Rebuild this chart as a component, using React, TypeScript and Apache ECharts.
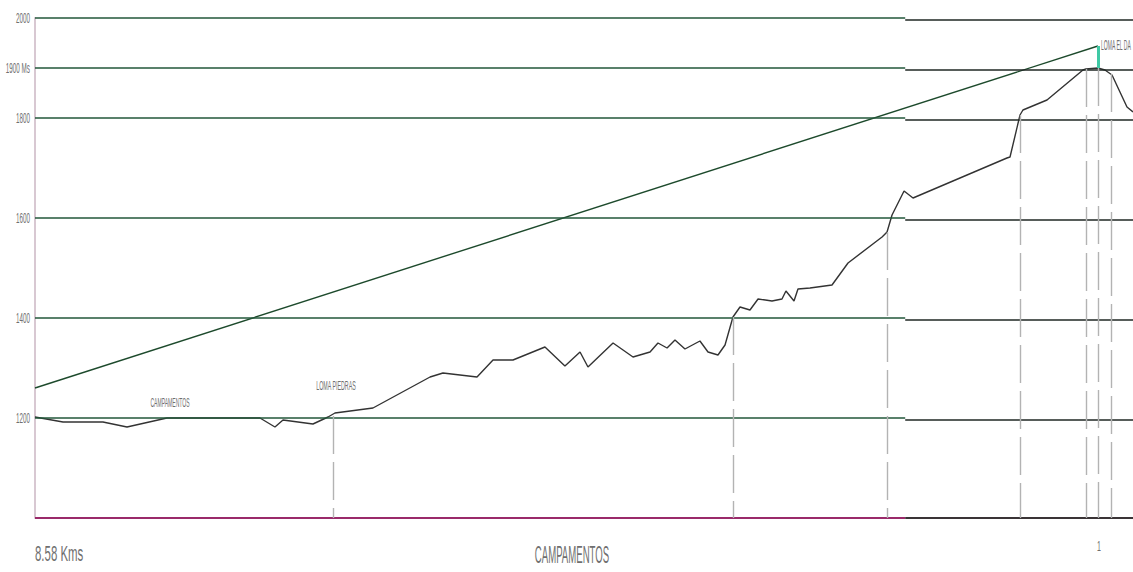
import React, { useEffect, useRef } from "react";
import * as echarts from "echarts";

// Elevation profile of the trail: distance in km, height in metres
const distKm = [
  0, 0.219, 0.531, 0.719, 1.031, 1.344, 1.703, 1.758, 1.875, 1.938, 2.172, 2.29,
  2.344, 2.641, 3.087, 3.188, 3.454, 3.579, 3.735, 3.985, 4.141, 4.259, 4.321,
  4.517, 4.673, 4.806, 4.868, 4.939, 5.001, 5.079, 5.196, 5.259, 5.337, 5.392,
  5.454, 5.509, 5.587, 5.65, 5.759, 5.837, 5.868, 5.931, 5.962, 6.056, 6.228,
  6.353, 6.619, 6.658, 6.697, 6.791, 6.861, 7.595, 7.619, 7.697, 7.72, 7.908,
  8.189, 8.212, 8.306, 8.361, 8.416, 8.533, 8.58,
];
const elevM = [
  1202, 1192, 1192, 1182, 1200, 1200, 1200, 1200, 1182, 1196, 1188, 1202,
  1210, 1220, 1282, 1290, 1282, 1316, 1316, 1342, 1304, 1332, 1302,
  1350, 1322, 1332, 1350, 1340, 1356, 1338, 1354, 1332, 1326, 1346,
  1402, 1422, 1416, 1438, 1434, 1438, 1454, 1434, 1458, 1460, 1466,
  1510, 1562, 1572, 1606, 1654, 1640, 1720, 1722, 1806, 1816, 1836,
  1896, 1898, 1900, 1896, 1886, 1822, 1812,
];

// Straight line from the start to the summit (average gradient)
const slopeKm = [0, 8.306];
const slopeElev = [1260, 1944];
const summitElev = 1900;

// Reference levels with their labels
const gridLevels = [2000, 1900, 1800, 1600, 1400, 1200];
const levelLabels = ["2000", "1900 Ms", "1800", "1600", "1400", "1200"];
const baseLevel = 1000;

// Waypoints marked with dashed drop lines
const waypointKm = [2.329, 5.454, 6.658, 7.697, 8.212, 8.306, 8.408];
const waypointElev = [1204, 1402, 1572, 1806, 1898, 1900, 1888];

// Place names written along the profile
const placeNames = ["CAMPAMENTOS", "LOMA PIEDRAS", "LOMA EL DA"];
const placeKm = [1.055, 2.352, 8.33];
const placeElev = [1232, 1266, 1946];

// Captions under the base line
const captionTexts = ["8.58 Kms", "CAMPAMENTOS", "1"];
const captionKm = [0, 4.196, 8.314];
const captionElev = [930, 928, 944];

const X_MAX = 8.58;
const Y_MIN = 1000;
const Y_MAX = 2000;
const SEAM_KM = 6.8; // the rule lines step down slightly from here on
const SEAM_DROP = 3;

const FONT = "Liberation Sans, Arial, sans-serif";
const TEXT_FILL = "#6f6f6f";

const placeStyle = [
  { size: 13, sx: 0.39, align: "center" },
  { size: 13, sx: 0.41, align: "center" },
  { size: 14, sx: 0.36, align: "left" },
];
const captionStyle = [
  { size: 22, sx: 0.52, align: "left" },
  { size: 24, sx: 0.4, align: "center" },
  { size: 14, sx: 0.5, align: "center" },
];

function textItem(x: number, y: number, text: string, size: number, sx: number, align: string) {
  return {
    type: "text",
    x,
    y,
    scaleX: sx,
    silent: true,
    style: {
      text,
      fill: TEXT_FILL,
      fontSize: size,
      fontFamily: FONT,
      align,
      verticalAlign: "middle",
    },
  };
}

export default function App() {
  const ref = useRef<HTMLDivElement>(null);

  useEffect(() => {
    document.body.style.margin = "0";
    if (!ref.current) return;
    const chart = echarts.init(ref.current, null, { renderer: "svg" });

    const ruleLines: any[] = [];
    gridLevels.forEach((lv) => {
      ruleLines.push([
        { coord: [0, lv], lineStyle: { color: "#22573a", width: 1.6, type: "solid" } },
        { coord: [SEAM_KM, lv] },
      ]);
      ruleLines.push([
        { coord: [SEAM_KM, lv - SEAM_DROP], lineStyle: { color: "#1f2723", width: 1.6, type: "solid" } },
        { coord: [X_MAX, lv - SEAM_DROP] },
      ]);
    });
    ruleLines.push([
      { coord: [0, baseLevel + 1], lineStyle: { color: "#9a2a6a", width: 2, type: "solid" } },
      { coord: [SEAM_KM, baseLevel + 1] },
    ]);
    ruleLines.push([
      { coord: [SEAM_KM, baseLevel], lineStyle: { color: "#3a3436", width: 2, type: "solid" } },
      { coord: [X_MAX, baseLevel] },
    ]);

    const dropLines = waypointKm.map((k, i) => [
      { coord: [k, waypointElev[i]], lineStyle: { color: "#b3b3b3", width: 1.4, type: [38, 8] } },
      { coord: [k, baseLevel] },
    ]);

    const summitMark = [
      [
        { coord: [slopeKm[1], slopeElev[1]], lineStyle: { color: "#3fc9a5", width: 3, type: "solid" } },
        { coord: [slopeKm[1], summitElev] },
      ],
    ];

    chart.setOption({
      animation: false,
      backgroundColor: "#ffffff",
      grid: { left: 35, right: 0, top: 18, bottom: 54, containLabel: false },
      xAxis: {
        type: "value",
        min: 0,
        max: X_MAX,
        axisLine: { show: false },
        axisTick: { show: false },
        axisLabel: { show: false },
        splitLine: { show: false },
      },
      yAxis: {
        type: "value",
        min: Y_MIN,
        max: Y_MAX,
        axisLine: { show: true, onZero: false, lineStyle: { color: "#d8c8d2", width: 2 } },
        axisTick: { show: false },
        axisLabel: { show: false },
        splitLine: { show: false },
      },
      series: [
        {
          type: "line",
          name: "rules",
          data: [],
          silent: true,
          z: 1,
          markLine: {
            silent: true,
            symbol: ["none", "none"],
            label: { show: false },
            animation: false,
            data: [...ruleLines, ...dropLines],
          },
        },
        {
          type: "line",
          name: "pendiente",
          data: slopeKm.map((k, i) => [k, slopeElev[i]]),
          symbol: "none",
          silent: true,
          z: 3,
          lineStyle: { color: "#1d4a2c", width: 1.4 },
        },
        {
          type: "line",
          name: "perfil",
          data: distKm.map((k, i) => [k, elevM[i]]),
          symbol: "none",
          silent: true,
          z: 4,
          lineStyle: { color: "#333333", width: 1.4 },
          markLine: {
            silent: true,
            symbol: ["none", "none"],
            label: { show: false },
            animation: false,
            data: summitMark,
          },
        },
        {
          type: "custom",
          name: "niveles",
          clip: false,
          silent: true,
          z: 6,
          data: gridLevels.map((lv) => [0, lv]),
          renderItem: (params: any, api: any) => {
            const p = api.coord([api.value(0), api.value(1)]);
            const i = params.dataIndex;
            return textItem(p[0] - 5, p[1], levelLabels[i], 15, 0.42, "right");
          },
        },
        {
          type: "custom",
          name: "lugares",
          clip: false,
          silent: true,
          z: 6,
          data: placeKm.map((k, i) => [k, placeElev[i]]),
          renderItem: (params: any, api: any) => {
            const p = api.coord([api.value(0), api.value(1)]);
            const i = params.dataIndex;
            const s = placeStyle[i];
            return textItem(p[0], p[1], placeNames[i], s.size, s.sx, s.align);
          },
        },
        {
          type: "custom",
          name: "pie",
          clip: false,
          silent: true,
          z: 6,
          data: captionKm.map((k, i) => [k, captionElev[i]]),
          renderItem: (params: any, api: any) => {
            const p = api.coord([api.value(0), api.value(1)]);
            const i = params.dataIndex;
            const s = captionStyle[i];
            return textItem(p[0], p[1], captionTexts[i], s.size, s.sx, s.align);
          },
        },
      ],
    });

    return () => chart.dispose();
  }, []);

  return <div ref={ref} style={{ width: 1133, height: 572 }} />;
}
